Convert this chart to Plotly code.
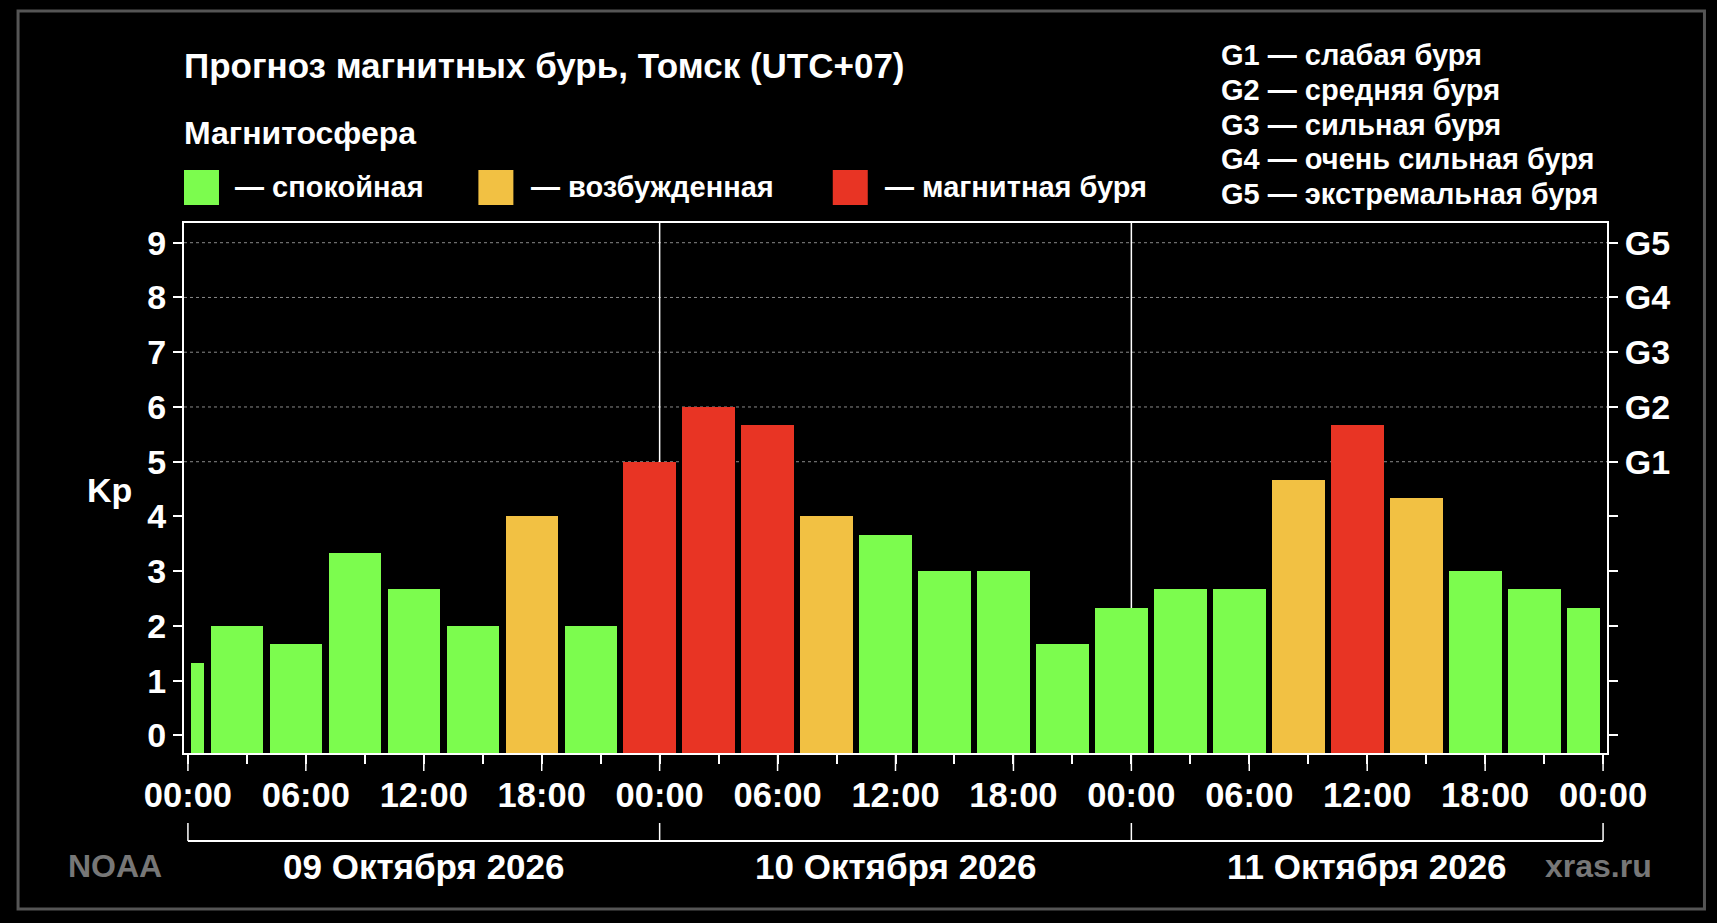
import plotly.graph_objects as go

# ---------------- data ----------------
kp_values = [1.33, 2.0, 1.67, 3.33, 2.67, 2.0, 4.0, 2.0,
             5.0, 6.0, 5.67, 4.0, 3.67, 3.0, 3.0, 1.67,
             2.33, 2.67, 2.67, 4.67, 5.67, 4.33, 3.0, 2.67, 2.33]
# local-time (UTC+07) start hour of each forecast interval, counted from 09 Oct 00:00
interval_start_hours = [0, 1, 4, 7, 10, 13, 16, 19,
                        22, 25, 28, 31, 34, 37, 40, 43,
                        46, 49, 52, 55, 58, 61, 64, 67, 70]
period_end_hour = 72
x_tick_hours = [0, 6, 12, 18, 24, 30, 36, 42, 48, 54, 60, 66, 72]
x_tick_labels = ["00:00", "06:00", "12:00", "18:00", "00:00", "06:00", "12:00",
                 "18:00", "00:00", "06:00", "12:00", "18:00", "00:00"]
day_labels = ["09 Октября 2026", "10 Октября 2026", "11 Октября 2026"]
day_start_hours = [0, 24, 48]
kp_ticks = [0, 1, 2, 3, 4, 5, 6, 7, 8, 9]
storm_levels = [5, 6, 7, 8, 9]
storm_names = ["G1", "G2", "G3", "G4", "G5"]
storm_desc = ["слабая буря", "средняя буря", "сильная буря",
              "очень сильная буря", "экстремальная буря"]
legend_labels = ["спокойная", "возбужденная", "магнитная буря"]

# ---------------- style ----------------
GREEN, YELLOW, RED = "#7cfc4e", "#f2c143", "#e83424"
FONT = "Liberation Sans"
W, H = 1717, 923
L, R, T, B = 184, 1607.5, 223, 753
X_MIN, X_MAX = -0.2, 72.2
Y_MIN, Y_MAX = -0.32, 9.36
GAP = 0.32


def px(x):
    return (x - L) / (R - L)


def py(y):
    return (B - y) / (B - T)


def kp_color(v):
    if v >= 5:
        return RED
    if v >= 4:
        return YELLOW
    return GREEN


ends = interval_start_hours[1:] + [period_end_hour]
centers = [(s + e) / 2 for s, e in zip(interval_start_hours, ends)]
widths = [(e - s) - GAP for s, e in zip(interval_start_hours, ends)]

fig = go.Figure()
fig.add_trace(go.Bar(
    x=centers, y=[v - Y_MIN for v in kp_values], base=Y_MIN, width=widths,
    marker=dict(color=[kp_color(v) for v in kp_values], line=dict(width=0)),
    showlegend=False, hoverinfo="skip"))
fig.add_trace(go.Scatter(x=[None], y=[None], yaxis="y2", showlegend=False))

tickfont = dict(family=FONT, size=34, color="white", weight="bold")
xtickfont = dict(family=FONT, size=34.5, color="white", weight="bold")

fig.update_layout(
    width=W, height=H, autosize=False,
    margin=dict(l=L, r=W - R, t=T, b=H - B),
    paper_bgcolor="black", plot_bgcolor="black",
    bargap=0,
    xaxis=dict(range=[X_MIN, X_MAX], tickmode="array", tickvals=x_tick_hours,
               ticktext=x_tick_labels, tickfont=xtickfont, ticks="outside",
               ticklen=9, tickwidth=1.5, tickcolor="white",
               minor=dict(dtick=3, tick0=0, ticks="outside", ticklen=9,
                          tickwidth=1.5, tickcolor="white"),
               showline=True, linecolor="white", linewidth=2, mirror=True,
               showgrid=False, zeroline=False, ticklabelstandoff=2, fixedrange=True),
    yaxis=dict(range=[Y_MIN, Y_MAX], tickmode="array", tickvals=kp_ticks,
               tickfont=tickfont, ticks="outside", ticklen=9, tickwidth=1.5,
               tickcolor="white", showline=True, linecolor="white", linewidth=2,
               showgrid=False, zeroline=False, ticklabelstandoff=0, fixedrange=True),
    yaxis2=dict(range=[Y_MIN, Y_MAX], overlaying="y", side="right",
                tickmode="array", tickvals=kp_ticks,
                ticktext=[storm_names[storm_levels.index(t)] if t in storm_levels else ""
                          for t in kp_ticks],
                tickfont=tickfont, ticks="outside", ticklen=9, tickwidth=1.5,
                tickcolor="white", showline=True, linecolor="white", linewidth=2,
                showgrid=False, zeroline=False, ticklabelstandoff=0, fixedrange=True),
)

shapes = []
# dashed storm level grid
for lvl in storm_levels:
    shapes.append(dict(type="line", xref="paper", yref="y", x0=0, x1=1, y0=lvl, y1=lvl,
                       line=dict(color="#8a8a8a", width=1, dash="3px,3px"), layer="below"))
# day separators
for d in day_start_hours[1:]:
    shapes.append(dict(type="line", xref="x", yref="paper", x0=d, x1=d, y0=0, y1=1,
                       line=dict(color="white", width=1.5), layer="below"))
# long major ticks on the time axis
for h in x_tick_hours:
    shapes.append(dict(type="line", xref="x", yref="paper", x0=h, x1=h,
                       y0=0, y1=py(B + 18), line=dict(color="white", width=1.5)))
# date bracket
shapes.append(dict(type="line", xref="x", yref="paper", x0=0, x1=period_end_hour,
                   y0=py(841), y1=py(841), line=dict(color="white", width=2)))
for d in day_start_hours + [period_end_hour]:
    shapes.append(dict(type="line", xref="x", yref="paper", x0=d, x1=d,
                       y0=py(841), y1=py(823), line=dict(color="white", width=1.5)))
# outer frame
shapes.append(dict(type="rect", xref="paper", yref="paper", x0=px(18), x1=px(1705),
                   y0=py(11), y1=py(909), line=dict(color="#555555", width=3)))
# legend squares
for x0, col in zip([184, 478.5, 833], [GREEN, YELLOW, RED]):
    shapes.append(dict(type="rect", xref="paper", yref="paper", x0=px(x0), x1=px(x0 + 35),
                       y0=py(205), y1=py(170), fillcolor=col, line=dict(width=0)))
fig.update_layout(shapes=shapes)

ann = []


def text(x, y, s, size, color="white", xanchor="left"):
    ann.append(dict(xref="paper", yref="paper", x=px(x), y=py(y), text=s, showarrow=False,
                    xanchor=xanchor, yanchor="middle",
                    font=dict(family=FONT, size=size, color=color, weight="bold")))


text(182, 66, "Прогноз магнитных бурь, Томск (UTC+07)", 35)
text(182, 133, "Магнитосфера", 32)
for x0, lab in zip([233, 529, 883], legend_labels):
    text(x0, 187, "— " + lab, 29)
for i, (n, d) in enumerate(zip(storm_names, storm_desc)):
    text(1219, 55 + i * 34.8, f"{n} — {d}", 29)
text(109.5, 490, "Kp", 34, xanchor="center")
text(115, 866, "NOAA", 32, color="#777777", xanchor="center")
text(1599, 866, "xras.ru", 32, color="#777777", xanchor="center")
for d, lab in zip(day_start_hours, day_labels):
    ann.append(dict(xref="x", yref="paper", x=d + 12, y=py(866), text=lab, showarrow=False,
                    xanchor="center", yanchor="middle",
                    font=dict(family=FONT, size=35, color="white", weight="bold")))
fig.update_layout(annotations=ann)

fig.write_html("out.html", config={"displayModeBar": False})
